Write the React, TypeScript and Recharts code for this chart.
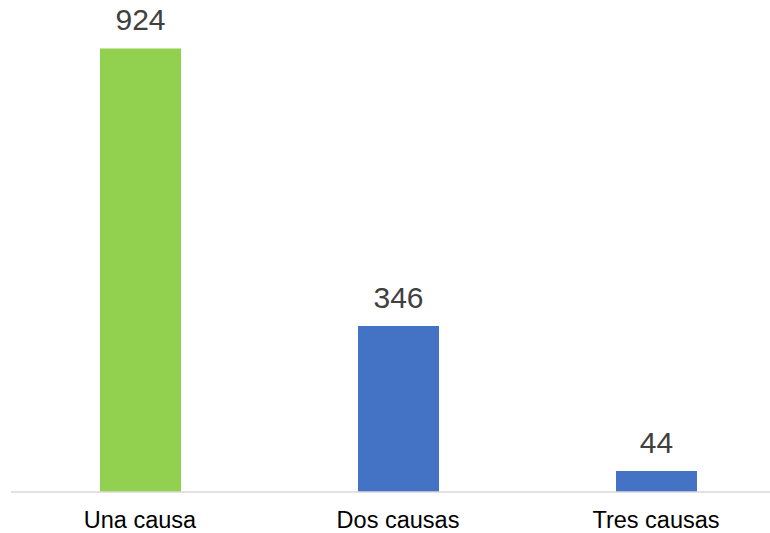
import { BarChart, Bar, XAxis, YAxis, Cell, LabelList } from "recharts";

const CATEGORIES = ["Una causa", "Dos causas", "Tres causas"];
const VALUES = [924, 346, 44];
const BAR_COLORS = ["#92D050", "#4472C4", "#4472C4"];

const data = CATEGORIES.map((name, i) => ({ name, value: VALUES[i] }));

export default function App() {
  return (
    <div
      style={{
        position: "absolute",
        left: 0,
        top: 0,
        width: 770,
        height: 533,
        overflow: "hidden",
        background: "#ffffff",
      }}
    >
      <BarChart
        width={785}
        height={533}
        data={data}
        margin={{ top: 12, right: 0, bottom: 0, left: 11 }}
        barSize={81}
      >
        <YAxis hide domain={[0, 1000]} />
        <XAxis
          dataKey="name"
          height={41}
          tickLine={false}
          tickSize={0}
          tickMargin={19}
          axisLine={{ stroke: "#d9d9d9", strokeWidth: 1.5 }}
          tick={{ fill: "#000000", fontSize: 23.5, fontFamily: "Liberation Sans, Arial, sans-serif" }}
        />
        <Bar dataKey="value" isAnimationActive={false}>
          {data.map((d, i) => (
            <Cell key={d.name} fill={BAR_COLORS[i]} />
          ))}
          <LabelList
            dataKey="value"
            position="top"
            offset={18}
            fill="#404040"
            fontSize={30}
            fontFamily="Liberation Sans, Arial, sans-serif"
          />
        </Bar>
      </BarChart>
    </div>
  );
}
